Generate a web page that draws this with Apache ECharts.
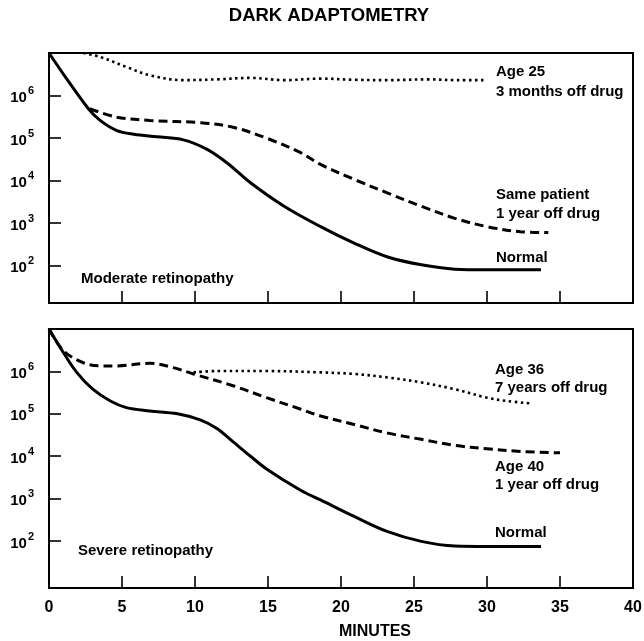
<!DOCTYPE html>
<html>
<head>
<meta charset="utf-8">
<script src="https://cdn.jsdelivr.net/npm/echarts@6/dist/echarts.min.js"></script>
<style>
  html, body { margin: 0; padding: 0; background: #fff; }
  #chart { width: 644px; height: 641px; }
</style>
</head>
<body>
<div id="chart"></div>
<script>
// minutes ticks and decade ticks
var xLabels = [0, 5, 10, 15, 20, 25, 30, 35, 40];
var xTickMarks = [5, 10, 15, 20, 25, 30, 35];
var yDecades = [1e2, 1e3, 1e4, 1e5, 1e6];

// moderate retinopathy (top panel)
var normalTopT = [0, 1.2, 2.7, 3.5, 4.65, 5.8, 7.4, 9.2, 10.8, 12.2, 13.8, 16.1, 18.6, 20.9, 23.2, 25.5, 27.8, 30, 33.7];
var normalTopV = [1e7, 2.5e6, 4.9e5, 2.6e5, 1.5e5, 1.23e5, 1.07e5, 9.1e4, 5.5e4, 2.6e4, 8.9e3, 2.5e3, 830, 340, 160, 105, 83, 80, 80];
var samePatientT = [2.8, 4.65, 6.9, 10.4, 12.6, 14.9, 17.2, 18.6, 20.9, 23.2, 25.5, 27.8, 30, 32.3, 34.2];
var samePatientV = [4.9e5, 3.1e5, 2.6e5, 2.3e5, 1.8e5, 1e5, 4.6e4, 2.4e4, 1.07e4, 5.1e3, 2.5e3, 1.3e3, 830, 630, 600];
var age25T = [2.35, 3.5, 5.3, 6.9, 9.2, 11.5, 13.8, 16.1, 18.6, 20.9, 23.2, 26, 28, 30];
var age25V = [1e7, 8.1e6, 4.7e6, 3.0e6, 2.3e6, 2.4e6, 2.6e6, 2.3e6, 2.5e6, 2.35e6, 2.3e6, 2.4e6, 2.3e6, 2.3e6];

// severe retinopathy (bottom panel)
var normalBotT = [0, 0.98, 1.9, 3.0, 4.2, 5.3, 6.9, 8.8, 10.4, 11.5, 12.6, 13.8, 14.9, 17.2, 18.6, 20.9, 23.2, 25.5, 27.8, 30, 33.7];
var normalBotV = [1e7, 2.8e6, 9.5e5, 3.8e5, 2.0e5, 1.4e5, 1.17e5, 1.0e5, 7.1e4, 4.5e4, 2.2e4, 1.0e4, 5.0e3, 1.6e3, 930, 380, 166, 98, 76, 74, 74];
var age40T = [0, 0.98, 2.35, 3.5, 4.65, 6.9, 8.5, 9.9, 12.6, 14.9, 17.2, 18.6, 20.9, 23.2, 25.5, 27.8, 30, 32.3, 35];
var age40V = [1e7, 3.1e6, 1.6e6, 1.35e6, 1.35e6, 1.55e6, 1.23e6, 8.7e5, 4.6e5, 2.4e5, 1.3e5, 8.9e4, 5.6e4, 3.5e4, 2.5e4, 1.8e4, 1.5e4, 1.3e4, 1.2e4];
var age36T = [9.9, 11.5, 14.9, 18.6, 20.9, 23.2, 25.5, 27.8, 30, 31.4, 33.1];
var age36V = [9.5e5, 1.02e6, 1.02e6, 9.5e5, 8.7e5, 7.2e5, 5.5e5, 3.8e5, 2.4e5, 2.0e5, 1.75e5];

var font = 'Liberation Sans, Arial, Helvetica, sans-serif';

function pairs(t, v) {
  return t.map(function (x, i) { return [x, v[i]]; });
}

function powLabel(v) {
  return '{a|10}{b|' + Math.round(Math.log10(v)) + '}';
}

function xAxisOf(idx, labels) {
  return {
    type: 'value', gridIndex: idx, min: 0, max: 40, interval: 5,
    axisLine: { show: true, lineStyle: { color: '#000', width: 2 } },
    axisTick: { show: true, inside: true, length: 12, customValues: xTickMarks, lineStyle: { color: '#000', width: 1.6 } },
    axisLabel: {
      show: labels, margin: 12, color: '#000', fontFamily: font, fontWeight: 'bold', fontSize: 16,
      customValues: xLabels
    },
    splitLine: { show: false }
  };
}

function yAxisOf(idx, min) {
  return {
    type: 'log', gridIndex: idx, min: min, max: 1e7, logBase: 10,
    axisLine: { show: true, lineStyle: { color: '#000', width: 2 } },
    axisTick: { show: true, inside: true, length: 12, customValues: yDecades, lineStyle: { color: '#000', width: 1.6 } },
    axisLabel: {
      margin: 15, color: '#000', formatter: powLabel, customValues: yDecades,
      rich: {
        a: { fontFamily: font, fontWeight: 'bold', fontSize: 15, color: '#000', verticalAlign: 'bottom' },
        b: { fontFamily: font, fontWeight: 'bold', fontSize: 11, color: '#000', verticalAlign: 'bottom', padding: [0, 0, 9, 1] }
      }
    },
    splitLine: { show: false }
  };
}

function line(name, idx, t, v, kind) {
  var ls = { color: '#000', width: 3 };
  if (kind === 'dash') { ls.type = [9, 5]; ls.width = 3; }
  if (kind === 'dot') { ls.type = [2.5, 3.5]; ls.width = 2.6; }
  return {
    name: name, type: 'line', xAxisIndex: idx, yAxisIndex: idx,
    data: pairs(t, v), smooth: 0.35, showSymbol: false, symbol: 'none',
    lineStyle: ls, animation: false, silent: true
  };
}

function txt(x, y, s, opt) {
  opt = opt || {};
  return {
    type: 'text', x: x, y: y,
    style: {
      text: s, fill: '#000', font: (opt.light ? '' : 'bold ') + (opt.size || 15) + 'px ' + font,
      textAlign: opt.align || 'left', textVerticalAlign: 'middle', verticalAlign: 'middle'
    }
  };
}

var chart = echarts.init(document.getElementById('chart'));
chart.setOption({
  animation: false,
  grid: [
    { left: 49, right: 11, top: 53, height: 250, show: true, borderColor: '#000', borderWidth: 2, outerBoundsMode: 'none', containLabel: false },
    { left: 49, right: 11, top: 329, height: 259, show: true, borderColor: '#000', borderWidth: 2, outerBoundsMode: 'none', containLabel: false }
  ],
  xAxis: [xAxisOf(0, false), xAxisOf(1, true)],
  yAxis: [yAxisOf(0, 13.3), yAxisOf(1, 7.8)],
  series: [
    line('Normal', 0, normalTopT, normalTopV, 'solid'),
    line('Same patient 1 year off drug', 0, samePatientT, samePatientV, 'dash'),
    line('Age 25 3 months off drug', 0, age25T, age25V, 'dot'),
    line('Normal', 1, normalBotT, normalBotV, 'solid'),
    line('Age 40 1 year off drug', 1, age40T, age40V, 'dash'),
    line('Age 36 7 years off drug', 1, age36T, age36V, 'dot')
  ],
  graphic: [
    txt(329, 16, 'DARK ADAPTOMETRY', { size: 18.5, align: 'center' }),
    txt(375, 632, 'MINUTES', { size: 16, align: 'center' }),
    txt(496, 72, 'Age 25'),
    txt(496, 92, '3 months off drug'),
    txt(496, 195, 'Same patient'),
    txt(496, 214, '1 year off drug'),
    txt(496, 258, 'Normal'),
    txt(81, 279, 'Moderate retinopathy'),
    txt(495, 370, 'Age 36'),
    txt(495, 388, '7 years off drug'),
    txt(495, 467, 'Age 40'),
    txt(495, 485, '1 year off drug'),
    txt(495, 533, 'Normal'),
    txt(78, 551, 'Severe retinopathy')
  ]
});
</script>
</body>
</html>
